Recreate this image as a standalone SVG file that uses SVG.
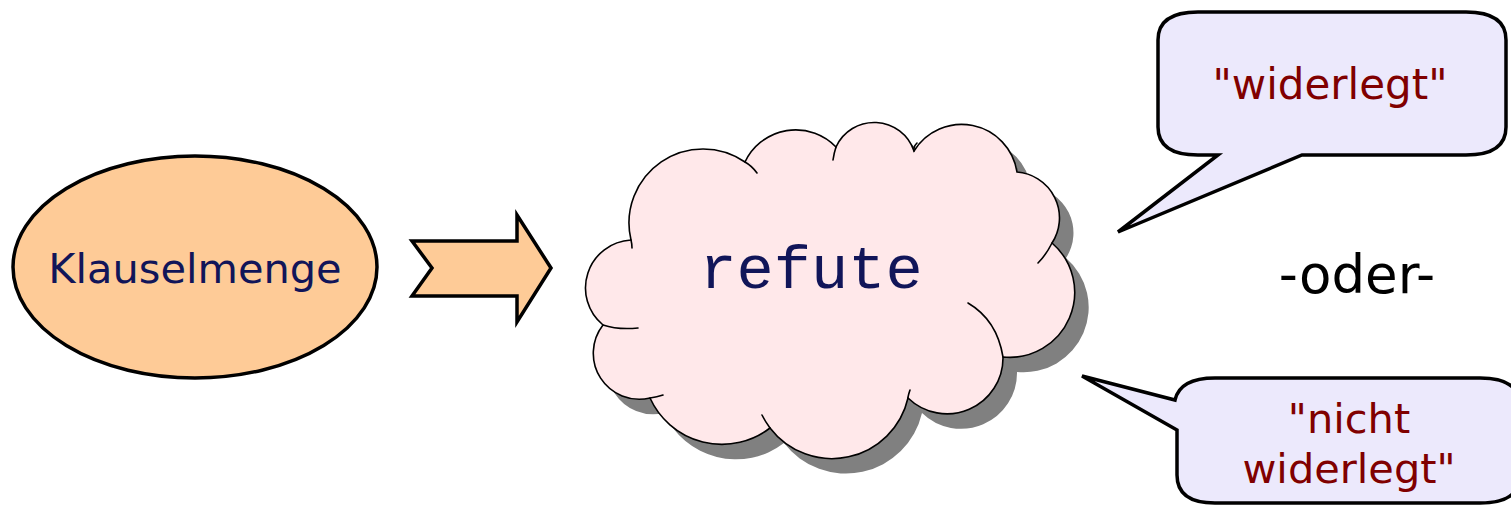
<svg xmlns="http://www.w3.org/2000/svg" width="1511" height="505" viewBox="0 0 1511 505">
<defs>
<style>
.lbl{font-family:"DejaVu Sans","Verdana",sans-serif;text-anchor:middle}
.navy{fill:#111559}
.red{fill:#800000}
.callout{fill:#ECE9FC;stroke:#000;stroke-width:3.5;stroke-linejoin:miter}
.tail{fill:none;stroke:#000;stroke-width:1.6;stroke-linecap:round}
</style>
<path id="cloudShape" d="M603 325 A48 48 0 0 1 631 240 A74 74 0 0 1 745 162 A56 56 0 0 1 836 147 A42 42 0 0 1 914 151 A56 56 0 0 1 1017 172 A46 46 0 0 1 1052 243 A65 65 0 0 1 1003 357 A56 56 0 0 1 908 398 A78 78 0 0 1 770 428 A79 79 0 0 1 650 398 A46 46 0 0 1 603 325 Z"/>
</defs>
<rect width="1511" height="505" fill="#fff"/>

<g id="klauselmenge">
<ellipse cx="195" cy="267" rx="182" ry="111" fill="#FECB97" stroke="#000" stroke-width="3.5"/>
<text class="lbl navy" x="195" y="283" font-size="41.5">Klauselmenge</text>
</g>

<g id="connectors">
<path d="M412 241 L517 241 L517 215 L551 268 L517 322 L517 296 L412 296 L432 268 Z" fill="#FECB97" stroke="#000" stroke-width="3.5" stroke-linejoin="miter"/>
</g>

<g id="refute">
<use href="#cloudShape" transform="translate(14 15)" fill="#808080"/>
<use href="#cloudShape" fill="#FFE8EA" stroke="#000" stroke-width="1.6"/>
<path class="tail" d="M603 325 Q618 330 638 328"/>
<path class="tail" d="M631 240 Q632 244 632 248"/>
<path class="tail" d="M745 162 Q752 166 757 173"/>
<path class="tail" d="M836 147 Q834 153 833 160"/>
<path class="tail" d="M914 151 Q913 147 917 143"/>
<path class="tail" d="M1052 243 Q1046 255 1038 263"/>
<path class="tail" d="M968 303 Q997 320 1003 357"/>
<path class="tail" d="M908 398 Q908 396 910 390"/>
<path class="tail" d="M770 428 Q765 421 762 415"/>
<path class="tail" d="M650 398 Q657 397 663 395"/>
<text x="811" y="288" font-family="'Liberation Mono','Courier New',monospace" font-size="62" text-anchor="middle" class="navy">refute</text>
</g>

<g id="callout-widerlegt">
<path class="callout" d="M1198 12 L1466 12 Q1506 12 1506 40 L1506 127 Q1506 155 1466 155 L1302 155 L1118 232 L1218 155 L1198 155 Q1158 155 1158 127 L1158 40 Q1158 12 1198 12 Z"/>
<text class="lbl red" x="1330" y="99" font-size="42">"widerlegt"</text>
</g>

<g id="oder">
<text class="lbl" x="1357" y="293" font-size="53" fill="#000">-oder-</text>
</g>

<g id="callout-nicht">
<path class="callout" d="M1215 378 L1480 378 Q1520 378 1520 406 L1520 475 Q1520 503 1480 503 L1215 503 Q1177 503 1177 475 L1177 430 L1082 376 L1175 400 Q1180 378 1215 378 Z"/>
<text class="lbl red" x="1349" y="433" font-size="41.5">"nicht</text>
<text class="lbl red" x="1349" y="483" font-size="41.5">widerlegt"</text>
</g>
</svg>
